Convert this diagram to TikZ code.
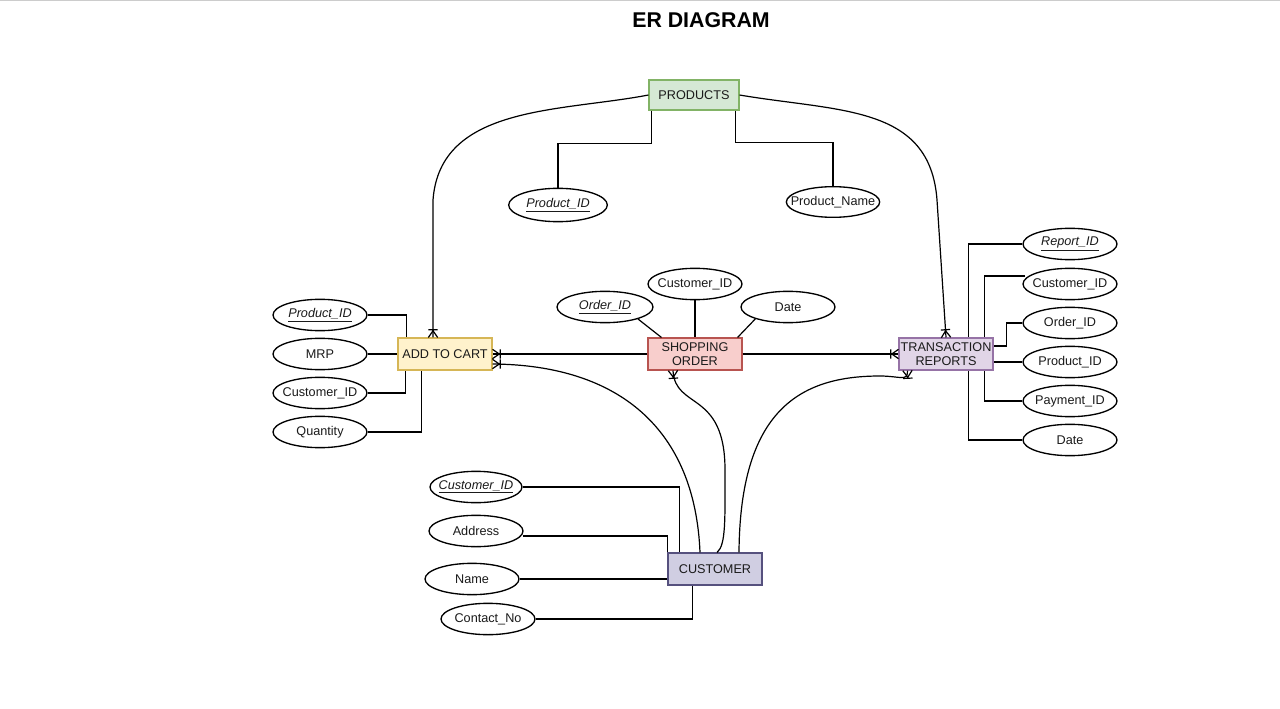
\documentclass[tikz,border=0pt]{standalone}
\usepackage{fontspec}
\setmainfont{Liberation Sans}
\usetikzlibrary{calc,arrows.meta,shapes.geometric}
\pgfdeclarearrow{
  name = Crow,
  setup code = {
    \pgfarrowssettipend{0pt}
    \pgfarrowssetlineend{0pt}
    \pgfarrowssetbackend{-7pt}
    \pgfarrowshullpoint{0pt}{3.5pt}
    \pgfarrowshullpoint{0pt}{-3.5pt}
    \pgfarrowshullpoint{-7pt}{0pt}
  },
  drawing code = {
    \pgfsetdash{}{0pt}
    \pgfsetroundjoin
    \pgfpathmoveto{\pgfqpoint{0pt}{3.5pt}}
    \pgfpathlineto{\pgfqpoint{-5pt}{0pt}}
    \pgfpathlineto{\pgfqpoint{0pt}{-3.5pt}}
    \pgfpathmoveto{\pgfqpoint{-5.8pt}{3.5pt}}
    \pgfpathlineto{\pgfqpoint{-5.8pt}{-3.5pt}}
    \pgfusepathqstroke
  }
}
\definecolor{txt}{HTML}{1A1A1A}
\definecolor{gfill}{HTML}{D5E8D4}\definecolor{gline}{HTML}{82B366}
\definecolor{yfill}{HTML}{FFF2CC}\definecolor{yline}{HTML}{D6B656}
\definecolor{rfill}{HTML}{F8CECC}\definecolor{rline}{HTML}{B85450}
\definecolor{pfill}{HTML}{E1D5E7}\definecolor{pline}{HTML}{9673A6}
\definecolor{bfill}{HTML}{D0CEE2}\definecolor{bline}{HTML}{56517E}
\tikzset{
  entity/.style={draw, line width=0.8pt, minimum width=70.5pt, minimum height=24pt,
    inner sep=1pt, align=center, text=txt, font=\fontsize{9.5}{10}\selectfont},
  attr/.style={draw, ellipse, line width=1pt, fill=white, minimum width=70.5pt,
    minimum height=23.5pt, inner xsep=-12pt, inner ysep=0pt, text=txt,
    font=\fontsize{9.5}{10}\selectfont},
  conn/.style={draw=black, line width=0.9pt},
  rel/.style={conn, -Crow}
}
\newcommand{\keyattr}[1]{\underline{\textit{#1}}}
\begin{document}
\begin{tikzpicture}[x=0.75pt,y=-0.75pt]
\useasboundingbox (0,0) rectangle (1280,709);
\fill[white] (0,0) rectangle (1280,709);
\draw[black!20, line width=1pt] (0,0.6) -- (1280,0.6);

\node[font=\bfseries\fontsize{16}{18}\selectfont, text=black] (title) at (701,20) {ER DIAGRAM};

% entities
\node[entity, fill=gfill, draw=gline, minimum width=67.5pt, minimum height=22.5pt] (prod) at (694,95) {PRODUCTS};
\node[entity, fill=yfill, draw=yline] (add) at (445,354) {ADD TO CART};
\node[entity, fill=rfill, draw=rline] (so) at (695,354) {SHOPPING\\ORDER};
\node[entity, fill=pfill, draw=pline] (tr) at (946,354) {TRANSACTION\\REPORTS};
\node[entity, fill=bfill, draw=bline] (cust) at (715,569) {CUSTOMER};

% product attributes
\node[attr, minimum width=74pt, minimum height=25pt] (ppid) at (558,205) {\keyattr{Product\_ID}};
\node[attr, minimum width=70pt, minimum height=23pt] (pname) at (833,202) {Product\_Name};

% add to cart attributes
\node[attr] (apid) at (320,315) {\keyattr{Product\_ID}};
\node[attr] (amrp) at (320,354) {MRP};
\node[attr] (acid) at (320,393) {Customer\_ID};
\node[attr] (aqty) at (320,432) {Quantity};

% shopping order attributes
\node[attr, minimum width=72pt] (soid) at (605,307) {\keyattr{Order\_ID}};
\node[attr] (scid) at (695,284) {Customer\_ID};
\node[attr] (sdate) at (788,307) {Date};

% transaction attributes
\node[attr] (trid) at (1070,244) {\keyattr{Report\_ID}};
\node[attr] (tcid) at (1070,284) {Customer\_ID};
\node[attr] (toid) at (1070,323) {Order\_ID};
\node[attr] (tpid) at (1070,362) {Product\_ID};
\node[attr] (tpay) at (1070,401) {Payment\_ID};
\node[attr] (tdate) at (1070,440) {Date};

% customer attributes
\node[attr, minimum width=69pt] (ccid) at (476,487) {\keyattr{Customer\_ID}};
\node[attr] (caddr) at (476,531) {Address};
\node[attr] (cname) at (472,579) {Name};
\node[attr] (ccon) at (488,619) {Contact\_No};

% attribute links
\draw[conn] ($(prod.south west)+(3,0)$) -- ++(0,33) -| (ppid.north);
\draw[conn] ($(prod.south east)+(-4,0)$) -- ++(0,32) -| (pname.north);

\draw[conn] (apid.east) -| ($(add.north west)+(9,0)$);
\draw[conn] (amrp.east) -- (add.west);
\draw[conn] (acid.east) -| ($(add.south west)+(8,0)$);
\draw[conn] (aqty.east) -| ($(add.south west)+(24,0)$);

\draw[conn] (soid.-20) -- ($(so.north west)+(14,0)$);
\draw[conn] (scid.south) -- (so.north);
\draw[conn] (sdate.200) -- ($(so.north east)+(-5,0)$);

\draw[conn] (trid.west) -| ($(tr.north west)+(70,0)$);
\draw[conn] ($(tcid.west)+(3,-8)$) -| ($(tr.north west)+(86,0)$);
\draw[conn] (toid.west) -- ++(-16,0) |- ($(tr.east)+(0,-8)$);
\draw[conn] ($(tr.east)+(0,8)$) -- (tpid.west);
\draw[conn] (tpay.west) -| ($(tr.south west)+(86,0)$);
\draw[conn] (tdate.west) -| ($(tr.south west)+(70,0)$);

\draw[conn] (ccid.east) -| ($(cust.north west)+(12,0)$);
\draw[conn] ($(caddr.east)+(-1,5)$) -| (cust.north west);
\draw[conn] (cname.east) -- (cname.east -| cust.west);
\draw[conn] (ccon.east) -| ($(cust.south west)+(25,0)$);

% relationships
\draw[rel] (prod.west) .. controls (560,112) and (440,105) .. (433,200) -- ($(add.north)+(-12,0)$);
\draw[rel] (prod.east) .. controls (840,112) and (930,105) .. (937,200) -- (tr.north);
\draw[rel] (so.west) -- (add.east);
\draw[rel] (so.east) -- (tr.west);
\draw[rel] ($(cust.north)+(-15,0)$) .. controls (695,430) and (620,365) .. ($(add.east)+(0,10)$);
\draw[rel] ($(cust.north)+(2,0)$) .. controls (726,545) and (725,520) .. (725,470)
  .. controls (725,390) and (675,410) .. ($(so.south)+(-22,0)$);
\draw[rel] ($(cust.north)+(24,0)$) .. controls (740,410) and (800,376) .. (880,376)
  .. controls (900,376) and (908,382) .. ($(tr.south west)+(9,0)$);
\end{tikzpicture}
\end{document}
